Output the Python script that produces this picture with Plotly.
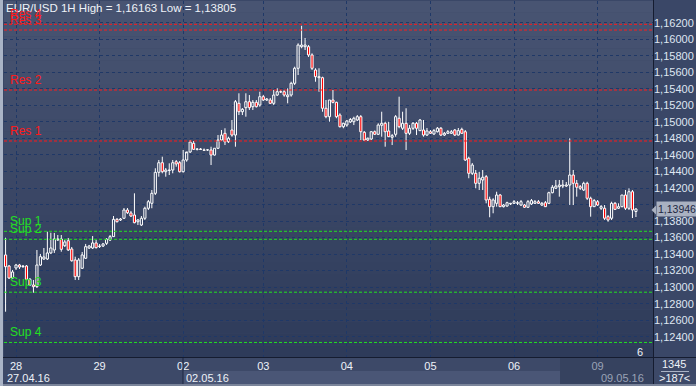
import plotly.graph_objects as go

# ---------------- data ----------------
opens = [1.13390,1.13256,1.13111,1.13232,1.13268,1.13250,1.13256,1.13095,1.13026,1.13006,
1.13268,1.13341,1.13341,1.13414,1.13450,1.13571,1.13583,1.13502,1.13562,1.13462,
1.13329,1.13127,1.13229,1.13350,1.13474,1.13474,1.13535,1.13498,1.13498,1.13531,
1.13571,1.13611,1.13821,1.13813,1.13834,1.13934,1.13898,1.13873,1.13792,1.13752,
1.13834,1.13955,1.14015,1.14136,1.14390,1.14506,1.14397,1.14412,1.14418,1.14518,
1.14506,1.14397,1.14539,1.14636,1.14741,1.14668,1.14672,1.14660,1.14660,1.14660,
1.14599,1.14681,1.14781,1.14862,1.14760,1.14902,1.14841,1.15225,1.15123,1.15172,
1.15244,1.15184,1.15237,1.15204,1.15305,1.15265,1.15265,1.15225,1.15325,1.15362,
1.15365,1.15305,1.15325,1.15467,1.15649,1.15910,1.15910,1.15910,1.15810,1.15628,
1.15535,1.15535,1.15165,1.15063,1.15265,1.15237,1.15083,1.14942,1.14962,1.14999,
1.15002,1.15023,1.15063,1.14874,1.14781,1.14793,1.14881,1.14850,1.14959,1.14983,
1.14890,1.14814,1.14850,1.15044,1.14923,1.14983,1.14862,1.14923,1.14983,1.14894,
1.14902,1.14841,1.14881,1.14854,1.14881,1.14923,1.14841,1.14862,1.14862,1.14902,
1.14841,1.14910,1.14881,1.14560,1.14378,1.14378,1.14257,1.14297,1.14337,1.14063,
1.13974,1.14015,1.14115,1.13974,1.13982,1.14007,1.14015,1.14015,1.13994,1.13994,
1.13967,1.14007,1.14015,1.14034,1.13994,1.14022,1.14015,1.14143,1.14197,1.14216,
1.14224,1.14224,1.14236,1.14357,1.14257,1.14216,1.14176,1.14257,1.14076,1.13974,
1.14034,1.13955,1.13955,1.13853,1.13834,1.14015,1.13955,1.13974,1.14115,1.13955,
1.14155,1.13916]

highs = [1.13599,1.13268,1.13208,1.13281,1.13281,1.13268,1.13268,1.13111,1.13087,1.13450,
1.13402,1.13474,1.13671,1.13659,1.13656,1.13631,1.13631,1.13571,1.13595,1.13486,
1.13369,1.13353,1.13426,1.13523,1.13511,1.13619,1.13571,1.13523,1.13535,1.13595,
1.13631,1.13861,1.13837,1.13837,1.13958,1.13958,1.13922,1.14136,1.13825,1.13861,
1.13974,1.14055,1.14176,1.14439,1.14539,1.14579,1.14442,1.14499,1.14539,1.14539,
1.14527,1.14660,1.14620,1.14781,1.14769,1.14684,1.14684,1.14678,1.14672,1.14700,
1.14681,1.14841,1.14902,1.14923,1.14821,1.15023,1.15265,1.15346,1.15168,1.15346,
1.15325,1.15265,1.15265,1.15365,1.15325,1.15289,1.15289,1.15386,1.15407,1.15386,
1.15386,1.15407,1.15486,1.15668,1.15951,1.16163,1.16015,1.15930,1.15830,1.15649,
1.15649,1.15547,1.15265,1.15265,1.15386,1.15244,1.15104,1.14990,1.15023,1.15047,
1.15063,1.15083,1.15083,1.14890,1.14811,1.14890,1.14896,1.14983,1.15123,1.15002,
1.15002,1.14854,1.15083,1.15305,1.15123,1.15165,1.14962,1.14999,1.14999,1.15035,
1.15023,1.14926,1.14902,1.14914,1.14938,1.14938,1.14878,1.14902,1.14902,1.14914,
1.14926,1.14930,1.14902,1.14579,1.14503,1.14418,1.14397,1.14418,1.14357,1.14095,
1.14076,1.14155,1.14128,1.14007,1.14034,1.14019,1.14055,1.14043,1.14055,1.14007,
1.14055,1.14067,1.14055,1.14055,1.14031,1.14043,1.14155,1.14236,1.14297,1.14297,
1.14297,1.14273,1.14802,1.14418,1.14297,1.14236,1.14276,1.14276,1.14095,1.14067,
1.14055,1.13994,1.13994,1.13873,1.14034,1.14031,1.14015,1.14115,1.14176,1.14197,
1.14176,1.13955]

lows = [1.12703,1.13099,1.13099,1.13208,1.13220,1.13232,1.13087,1.13014,1.12933,1.12990,
1.13256,1.13329,1.13329,1.13402,1.13414,1.13559,1.13429,1.13486,1.13438,1.13308,
1.13087,1.13087,1.13220,1.13341,1.13462,1.13462,1.13468,1.13474,1.13486,1.13511,
1.13559,1.13607,1.13783,1.13801,1.13825,1.13886,1.13849,1.13773,1.13752,1.13740,
1.13813,1.13934,1.13955,1.14115,1.14337,1.14378,1.14337,1.14357,1.14378,1.14458,
1.14388,1.14388,1.14518,1.14624,1.14660,1.14654,1.14660,1.14648,1.14648,1.14478,
1.14593,1.14672,1.14769,1.14720,1.14745,1.14821,1.14700,1.15083,1.15083,1.15063,
1.15144,1.15144,1.15174,1.15184,1.15253,1.15253,1.15217,1.15204,1.15313,1.15350,
1.15305,1.15225,1.15305,1.15446,1.15567,1.15891,1.15870,1.15785,1.15628,1.15486,
1.15365,1.15123,1.15044,1.15002,1.15225,1.15044,1.14932,1.14923,1.14942,1.14987,
1.14962,1.15011,1.14781,1.14769,1.14769,1.14781,1.14841,1.14841,1.14821,1.14700,
1.14817,1.14720,1.14821,1.14923,1.14902,1.14660,1.14841,1.14902,1.14841,1.14890,
1.14821,1.14829,1.14854,1.14841,1.14872,1.14829,1.14829,1.14854,1.14854,1.14829,
1.14835,1.14854,1.14527,1.14318,1.14357,1.14197,1.14176,1.14176,1.14015,1.13846,
1.13894,1.13974,1.13970,1.13964,1.13974,1.13994,1.14007,1.13994,1.13982,1.13958,
1.13958,1.13994,1.14007,1.14007,1.13982,1.13970,1.14007,1.14136,1.14188,1.14095,
1.14197,1.14212,1.13994,1.13994,1.14095,1.14176,1.14164,1.14055,1.13853,1.13970,
1.13982,1.13934,1.13813,1.13792,1.13813,1.13934,1.13946,1.13967,1.13934,1.13934,
1.13837,1.13849]

closes = [1.13248,1.13111,1.13184,1.13268,1.13244,1.13256,1.13095,1.13026,1.13006,1.13268,
1.13369,1.13365,1.13414,1.13474,1.13583,1.13583,1.13458,1.13547,1.13450,1.13320,
1.13127,1.13329,1.13390,1.13490,1.13498,1.13535,1.13478,1.13492,1.13523,1.13579,
1.13611,1.13821,1.13792,1.13825,1.13934,1.13901,1.13861,1.13780,1.13813,1.13834,
1.13955,1.14034,1.14136,1.14390,1.14506,1.14397,1.14418,1.14418,1.14506,1.14491,
1.14397,1.14539,1.14636,1.14757,1.14668,1.14672,1.14666,1.14656,1.14662,1.14599,
1.14681,1.14781,1.14841,1.14760,1.14802,1.14841,1.15244,1.15123,1.15152,1.15244,
1.15172,1.15237,1.15184,1.15305,1.15265,1.15277,1.15225,1.15325,1.15365,1.15365,
1.15325,1.15325,1.15467,1.15649,1.15930,1.15930,1.15930,1.15810,1.15649,1.15547,
1.15547,1.15165,1.15063,1.15265,1.15237,1.15063,1.14942,1.14983,1.15011,1.15029,
1.15044,1.15063,1.14881,1.14781,1.14802,1.14881,1.14850,1.14962,1.14983,1.14881,
1.14821,1.14833,1.15063,1.14942,1.14983,1.14862,1.14923,1.14983,1.14923,1.15023,
1.14841,1.14890,1.14862,1.14894,1.14923,1.14841,1.14862,1.14881,1.14881,1.14841,
1.14894,1.14862,1.14539,1.14378,1.14478,1.14257,1.14318,1.14330,1.14055,1.13974,
1.14055,1.14115,1.13974,1.13994,1.14022,1.14015,1.14034,1.14022,1.14034,1.13967,
1.14034,1.14047,1.14034,1.14015,1.14015,1.13974,1.14143,1.14209,1.14224,1.14236,
1.14236,1.14236,1.14357,1.14257,1.14209,1.14197,1.14257,1.14076,1.13974,1.14047,
1.13994,1.13974,1.13834,1.13813,1.14015,1.13942,1.13974,1.14115,1.13955,1.14155,
1.13934,1.13946]

bar_index = list(range(len(closes)))

day_labels = ["28", "29", "02", "03", "04", "05", "06",
              "<span style='color:#9aa3b6'>09</span>"]
day_start_bar = [3, 27, 51, 74, 98, 122, 146, 170]
date_labels = ["27.04.16", "02.05.16", "09.05.16"]
date_label_bar = [-0.3, 51.3, 170.5]

level_names = ["Res 4", "Res 3", "Res 2", "Res 1", "Sup 1", "Sup 2", "Sup 3", "Sup 4"]
level_values = [1.16181, 1.16112, 1.15386, 1.14769, 1.13676, 1.13579, 1.12939, 1.12331]

y_tick_vals = [1.124, 1.126, 1.128, 1.130, 1.132, 1.134, 1.136, 1.138, 1.140,
               1.142, 1.144, 1.146, 1.148, 1.150, 1.152, 1.154, 1.156, 1.158, 1.160, 1.162]
# the 1,14000 label sits under the last-price tag in the original, so it is left blank
y_tick_text = ["1,12400", "1,12600", "1,12800", "1,13000", "1,13200", "1,13400", "1,13600",
               "1,13800", "", "1,14200", "1,14400", "1,14600", "1,14800", "1,15000",
               "1,15200", "1,15400", "1,15600", "1,15800", "1,16000", "1,16200"]

title_text = "EUR/USD 1H High = 1,16163 Low = 1,13805"
last_price_text = "1,13946"
last_price = 1.13946

# ---------------- layout geometry ----------------
W, H = 696, 386
ML, MR, MT, MB = 4, 43, 1, 29
PW, PH = W - ML - MR, H - MT - MB


def px(x):
    return (x - ML) / PW


def py(y):
    return (H - MB - y) / PH


FONT = "Liberation Sans, Arial, sans-serif"

# candle parts derived from the OHLC lists
body_lo = [min(o, c) for o, c in zip(opens, closes)]
body_hi = [max(o, c) for o, c in zip(opens, closes)]
body_len = [h - l for h, l in zip(body_hi, body_lo)]
body_fill = ["rgba(0,0,0,0)" if c >= o else "#ff0000" for o, c in zip(opens, closes)]

wick_x, wick_y = [], []
for i, h, l, bh, bl in zip(bar_index, highs, lows, body_hi, body_lo):
    wick_x += [i, i, None, i, i, None]
    wick_y += [h, bh, None, bl, l, None]

fig = go.Figure()
fig.add_trace(go.Scatter(x=wick_x, y=wick_y, mode="lines",
                         line=dict(color="#ffffff", width=1),
                         showlegend=False, hoverinfo="skip"))
fig.add_trace(go.Bar(x=bar_index, y=body_len, base=body_lo, width=0.62,
                     marker=dict(color=body_fill, line=dict(color="#ffffff", width=1)),
                     showlegend=False, hoverinfo="skip"))

shapes = []
# gradient plot background
n_bands = 30
top_c = (72, 84, 114)
bot_c = (46, 59, 90)
for i in range(n_bands):
    t = i / (n_bands - 1)
    c = tuple(int(round(top_c[k] + (bot_c[k] - top_c[k]) * t)) for k in range(3))
    shapes.append(dict(type="rect", xref="paper", yref="paper", x0=0, x1=1,
                       y0=1 - (i + 1) / n_bands, y1=1 - i / n_bands,
                       fillcolor="rgb(%d,%d,%d)" % c, line=dict(width=0), layer="below"))

# level lines
for name, val in zip(level_names, level_values):
    col = "#ff1a1a" if name.startswith("Res") else "#22e022"
    shapes.append(dict(type="line", xref="paper", yref="y", x0=0, x1=1, y0=val, y1=val,
                       line=dict(color=col, width=1, dash="3px,2px"), layer="above"))

# bottom band sections
shapes.append(dict(type="rect", xref="paper", yref="paper", x0=px(0), x1=px(W),
                   y0=py(H), y1=py(H - MB), fillcolor="#3d4968", line=dict(width=0), layer="below"))
shapes.append(dict(type="rect", xref="paper", yref="paper", x0=px(183), x1=px(560),
                   y0=py(384), y1=py(371), fillcolor="#4a5676", line=dict(width=0), layer="below"))
shapes.append(dict(type="rect", xref="paper", yref="paper", x0=px(560), x1=px(653),
                   y0=py(384), y1=py(358), fillcolor="#36425f", line=dict(width=0), layer="below"))
shapes.append(dict(type="line", xref="paper", yref="paper", x0=px(183), x1=px(183),
                   y0=py(384), y1=py(358), line=dict(color="#1c2640", width=1)))
shapes.append(dict(type="rect", xref="paper", yref="paper", x0=px(0), x1=px(W),
                   y0=py(H), y1=py(384), fillcolor="#7a849a", line=dict(width=0)))
# separators
shapes.append(dict(type="line", xref="paper", yref="paper", x0=px(0), x1=px(W),
                   y0=py(357.5), y1=py(357.5), line=dict(color="#151c30", width=1)))
shapes.append(dict(type="line", xref="paper", yref="paper", x0=px(653.5), x1=px(653.5),
                   y0=py(0), y1=py(384), line=dict(color="#151c30", width=1)))
shapes.append(dict(type="line", xref="paper", yref="paper", x0=px(661), x1=px(689),
                   y0=py(371.5), y1=py(371.5), line=dict(color="#aab3c6", width=1)))
# left border
shapes.append(dict(type="rect", xref="paper", yref="paper", x0=px(0), x1=px(3),
                   y0=py(H), y1=py(0), fillcolor="#aab4c6", line=dict(width=0)))
# little arrow of the price tag
shapes.append(dict(type="path", xref="paper", yref="paper",
                   path="M %f %f L %f %f L %f %f Z" % (px(651.5), py(210), px(656), py(205.5), px(656), py(214.5)),
                   fillcolor="#a9b1c1", line=dict(width=0)))

annotations = []
annotations.append(dict(x=px(4), y=py(8), xref="paper", yref="paper", text=title_text,
                        showarrow=False, xanchor="left", yanchor="middle",
                        font=dict(family=FONT, size=11.5, color="#eef2f8")))
for name, val in zip(level_names, level_values):
    col = "#ff1a1a" if name.startswith("Res") else "#22e022"
    annotations.append(dict(x=px(8), y=val, xref="paper", yref="y", text=name,
                            showarrow=False, xanchor="left", yanchor="bottom", yshift=1,
                            font=dict(family=FONT, size=12, color=col)))
for lab, b in zip(date_labels, date_label_bar):
    col = "#9aa3b6" if lab == date_labels[-1] else "#eef2f8"
    annotations.append(dict(x=b, y=py(377.5), xref="x", yref="paper", text=lab,
                            showarrow=False, xanchor="left", yanchor="middle",
                            font=dict(family=FONT, size=11, color=col)))
annotations.append(dict(x=px(640), y=py(352), xref="paper", yref="paper", text="6",
                        showarrow=False, xanchor="center", yanchor="middle",
                        font=dict(family=FONT, size=11, color="#eef2f8")))
annotations.append(dict(x=px(674), y=py(364.5), xref="paper", yref="paper", text="1345",
                        showarrow=False, xanchor="center", yanchor="middle",
                        font=dict(family=FONT, size=11, color="#eef2f8")))
annotations.append(dict(x=px(674), y=py(378.5), xref="paper", yref="paper", text=">187<",
                        showarrow=False, xanchor="center", yanchor="middle",
                        font=dict(family=FONT, size=11, color="#eef2f8")))
annotations.append(dict(x=px(656), y=last_price, xref="paper", yref="y", text=last_price_text,
                        showarrow=False, xanchor="left", yanchor="middle",
                        bgcolor="#a9b1c1", borderpad=1,
                        font=dict(family=FONT, size=10.5, color="#1d2742")))

fig.update_layout(
    width=W, height=H,
    margin=dict(l=ML, r=MR, t=MT, b=MB),
    paper_bgcolor="#3a4767",
    plot_bgcolor="#3c4868",
    shapes=shapes,
    annotations=annotations,
    xaxis=dict(range=[-0.45, 185.9], tickvals=day_start_bar, ticktext=day_labels,
               showgrid=True, gridcolor="#1f3867", griddash="3px,3px", gridwidth=1,
               zeroline=False, showline=False, ticks="",
               tickfont=dict(family=FONT, size=11, color="#eef2f8"), ticklabelstandoff=1),
    yaxis=dict(range=[1.12155, 1.16463], side="right", tickvals=y_tick_vals,
               ticktext=y_tick_text, showgrid=True, gridcolor="#1f3867",
               griddash="3px,3px", gridwidth=1, zeroline=False, showline=False, ticks="",
               tickfont=dict(family=FONT, size=11, color="#dfe6f2")),
)

fig.write_html("out.html", config={"displayModeBar": False},
               post_script="document.body.style.margin='0';document.body.style.overflow='hidden';")
